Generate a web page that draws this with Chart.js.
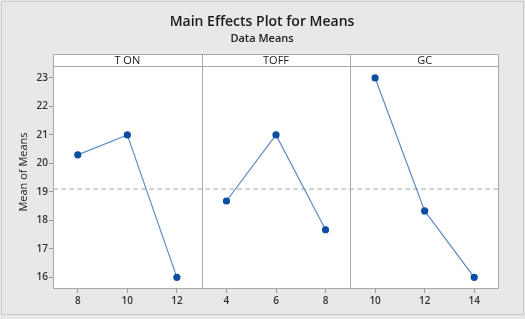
<!DOCTYPE html>
<html>
<head>
<meta charset="utf-8">
<script src="https://cdn.jsdelivr.net/npm/chart.js@4/dist/chart.umd.min.js"></script>
<style>
  html, body { margin: 0; padding: 0; background: #fff; }
  #wrap { width: 525px; height: 319px; }
</style>
</head>
<body>
<div id="wrap"><canvas id="chart" width="525" height="319"></canvas></div>
<script>
const factors = ['T ON', 'TOFF', 'GC'];
const levels = [[8, 10, 12], [4, 6, 8], [10, 12, 14]];
const tonMeans = [20.3, 21.0, 16.0];
const toffMeans = [18.68, 21.0, 17.67];
const gcMeans = [23.0, 18.33, 16.0];
const grandMean = 19.1;
const yTicks = [16, 17, 18, 19, 20, 21, 22, 23];

const allMeans = [tonMeans, toffMeans, gcMeans];
const xTickLabels = levels.flat();

// each factor gets 3 units of the x scale, one per level
const toPoints = (vals, p) => vals.map((v, i) => ({ x: p * 3 + i + 0.5, y: v }));

const font = '"Open Sans", "Noto Sans", sans-serif';

const framePlugin = {
  id: 'frame',
  beforeDraw(chart) {
    const { ctx, chartArea: a } = chart;
    ctx.save();
    ctx.fillStyle = '#e8e8e8';
    ctx.fillRect(0, 0, chart.width, chart.height);
    ctx.strokeStyle = '#cbcbcb';
    ctx.lineWidth = 1;
    ctx.strokeRect(1.5, 1.5, chart.width - 3, chart.height - 6);
    ctx.fillStyle = '#ffffff';
    ctx.fillRect(a.left, 54, a.right - a.left, a.bottom - 54);
    ctx.restore();
  },
  afterDraw(chart) {
    const { ctx, chartArea: a, scales } = chart;
    const x = scales.x;
    ctx.save();
    const stripTop = 54;
    const L = Math.round(a.left) + 0.5, R = Math.round(a.right) - 0.5;
    const T = stripTop + 0.5, B = Math.round(a.bottom) - 0.5;
    ctx.strokeStyle = '#a9a9a9';
    ctx.lineWidth = 1;
    ctx.strokeRect(L, T, R - L, B - T);
    ctx.beginPath();
    ctx.moveTo(L, Math.round(a.top) + 0.5);
    ctx.lineTo(R, Math.round(a.top) + 0.5);
    [3, 6].forEach(v => {
      const px = Math.round(x.getPixelForValue(v)) + 0.5;
      ctx.moveTo(px, T);
      ctx.lineTo(px, B);
    });
    ctx.stroke();
    // strip labels
    ctx.fillStyle = '#1a1a1a';
    ctx.font = '11px ' + font;
    ctx.textAlign = 'center';
    ctx.textBaseline = 'middle';
    factors.forEach((f, p) => {
      ctx.fillText(f, x.getPixelForValue(p * 3 + 1.5), (stripTop + a.top) / 2 + 0.5);
    });
    // titles
    ctx.font = '600 14px ' + font;
    ctx.fillText('Main Effects Plot for Means', 262, 22);
    ctx.font = '600 11px ' + font;
    ctx.fillText('Data Means', 262, 39);
    // y axis label
    ctx.translate(24, 172);
    ctx.rotate(-Math.PI / 2);
    ctx.font = '11px ' + font;
    ctx.fillText('Mean of Means', 0, 0);
    ctx.restore();
  }
};

const lineDatasets = allMeans.map((vals, p) => ({
  label: factors[p],
  data: toPoints(vals, p),
  borderColor: '#5b8cc4',
  borderWidth: 1.2,
  pointBackgroundColor: '#0b4ea2',
  pointBorderColor: '#0b4ea2',
  pointRadius: 3,
  order: 1
}));

new Chart(document.getElementById('chart'), {
  type: 'line',
  data: {
    datasets: [
      {
        label: 'mean',
        data: [{ x: 0, y: grandMean }, { x: 9, y: grandMean }],
        borderColor: '#b8b8b8',
        borderWidth: 1.2,
        borderDash: [5, 3],
        pointRadius: 0,
        order: 2
      },
      ...lineDatasets
    ]
  },
  options: {
    responsive: false,
    animation: false,
    layout: { padding: { left: 0, right: 26, top: 66, bottom: 0 } },
    plugins: { legend: { display: false }, tooltip: { enabled: false } },
    scales: {
      x: {
        type: 'linear',
        min: 0,
        max: 9,
        afterFit: s => { s.height = 30; },
        afterBuildTicks: s => { s.ticks = xTickLabels.map((_, i) => ({ value: i + 0.5 })); },
        grid: { drawOnChartArea: false, tickLength: 4, color: '#999' },
        border: { display: false },
        ticks: {
          autoSkip: false,
          maxRotation: 0,
          padding: 2,
          color: '#333',
          font: { family: font, size: 10, weight: '600' },
          callback: (v, i) => xTickLabels[i]
        }
      },
      y: {
        min: 15.59,
        max: 23.42,
        afterFit: s => { s.width = 53; },
        afterBuildTicks: s => { s.ticks = yTicks.map(v => ({ value: v })); },
        grid: { drawOnChartArea: false, tickLength: 4, color: '#999' },
        border: { display: false },
        ticks: {
          padding: 1,
          color: '#333',
          font: { family: font, size: 10, weight: '600' }
        }
      }
    }
  },
  plugins: [framePlugin]
});
</script>
</body>
</html>
